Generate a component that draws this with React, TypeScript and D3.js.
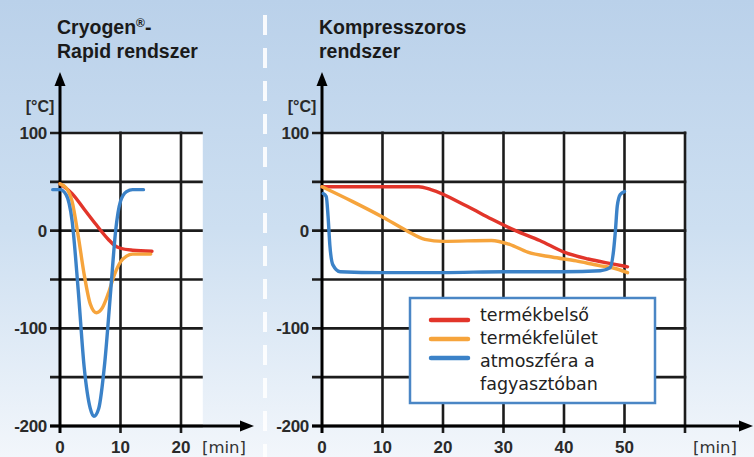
import React from "react";
import * as d3 from "d3";

type Pt = [number, number];

// Cryogen-Rapid system (left)
const cryoCore: Pt[] = [[0, 48], [2, 38], [4, 22], [6, 6], [8, -9], [9, -15], [10, -18], [12, -20], [15.2, -21]];
const cryoSurface: Pt[] = [[0, 48], [1, 44], [2, 30], [3, -5], [4, -45], [5, -75], [6, -84], [7, -79], [8, -64], [9, -45], [10, -32], [11, -26], [12, -24], [15, -24]];
const cryoAtmos: Pt[] = [[-1.2, 42], [0, 42], [1, 37], [2, 10], [3, -60], [4, -140], [5, -182], [5.6, -190], [6.4, -182], [7.4, -135], [8.4, -60], [9.2, 0], [10, 30], [11, 40], [12, 42], [13.8, 42]];

// Compressor system (right)
const compCore: Pt[] = [[0, 45], [16, 45], [18, 42], [24, 25], [28, 12], [32, 0], [36, -10], [40, -22], [44, -29], [48, -34], [50.5, -37]];
const compSurface: Pt[] = [[0, 45], [5, 30], [10, 14], [14, 0], [17, -9], [20, -11], [28, -10], [31, -14], [34, -22], [38, -27], [42, -31], [46, -36], [48, -38], [50.5, -43]];
const compAtmos: Pt[] = [[0.2, 38], [0.7, 35], [1.0, 15], [1.3, -15], [1.8, -35], [3, -42], [10, -43], [20, -43], [30, -42], [40, -42], [46, -41], [47.6, -38], [48.2, -20], [48.5, 0], [48.8, 25], [49.3, 37], [50, 40]];

const yGrid = [-200, -150, -100, -50, 0, 50, 100];
const yLabels = [100, 0, -100, -200];
const leftXTicks = [0, 10, 20];
const rightXTicks = [0, 10, 20, 30, 40, 50];
const rightXGrid = [10, 20, 30, 40, 50, 60];
const leftXGrid = [10, 20];

const legendItems = ["termékbelső", "termékfelület", "atmoszféra a"];
const legendExtra = "fagyasztóban";

const RED = "#e2352a";
const ORANGE = "#f6a43c";
const BLUE = "#3b82c8";
const GRID = "#1c1c1c";

const y = d3.scaleLinear().domain([-200, 100]).range([426, 133]);
const xL = d3.scaleLinear().domain([0, 10]).range([60, 120.5]);
const xR = d3.scaleLinear().domain([0, 10]).range([322, 382.5]);

function TitleLine({ t }: { t: string }) {
  const parts = t.split("®");
  if (parts.length === 1) return <>{t}</>;
  return (
    <>
      {parts[0]}
      <tspan fontSize={12} dy={-7}>®</tspan>
      <tspan dy={7}>{parts[1]}</tspan>
    </>
  );
}

function Panel({ x, xEnd, xGrid, xTicks, arrowEnd, title, series, rightBorder }: any) {
  const line = d3.line<Pt>().x(d => x(d[0])).y(d => y(d[1])).curve(d3.curveMonotoneX);
  const x0 = x(0);
  const x1 = x(xEnd);
  return (
    <g>
      <rect x={x0} y={y(100)} width={x1 - x0} height={y(-200) - y(100)} fill="#ffffff" />
      {title.map((t: string, i: number) => (
        <text key={t} x={x0 - 3} y={34 + i * 24} fontFamily="Liberation Sans, Arial, sans-serif" fontWeight="bold" fontSize={19.5} fill="#1a1a1a"><TitleLine t={t} /></text>
      ))}
      {xGrid.map((v: number) => (
        <line key={"v" + v} x1={x(v)} x2={x(v)} y1={y(100) - 1.5} y2={y(-200) + 7} stroke={GRID} strokeWidth={2.6} />
      ))}
      {yGrid.map(v => (
        <line key={"h" + v} x1={x0 - 10} x2={x1 + (rightBorder ? 1.3 : 0)} y1={y(v)} y2={y(v)} stroke={GRID} strokeWidth={2.6} />
      ))}
      <line x1={x0} x2={x0} y1={y(-200) + 7} y2={84} stroke="#000" strokeWidth={3} />
      <path d={`M${x0},72 L${x0 - 5.5},86 L${x0 + 5.5},86 Z`} fill="#000" />
      <line x1={x0 - 10} x2={arrowEnd - 10} y1={y(-200)} y2={y(-200)} stroke="#000" strokeWidth={3} />
      <path d={`M${arrowEnd},${y(-200)} L${arrowEnd - 14},${y(-200) - 5.5} L${arrowEnd - 14},${y(-200) + 5.5} Z`} fill="#000" />
      {yLabels.map(v => (
        <text key={"yl" + v} x={x0 - 13} y={y(v) + 6} textAnchor="end" fontFamily="Liberation Sans, Arial, sans-serif" fontWeight="bold" fontSize={17} fill="#2a2a2a" letterSpacing={-0.3}>{v}</text>
      ))}
      <text x={x0 - 20} y={112} textAnchor="middle" fontFamily="Liberation Sans, Arial, sans-serif" fontWeight="bold" fontSize={16} fill="#2a2a2a">[°C]</text>
      {xTicks.map((v: number) => (
        <text key={"xl" + v} x={x(v)} y={453} textAnchor="middle" fontFamily="Liberation Sans, Arial, sans-serif" fontWeight="bold" fontSize={17} fill="#2a2a2a">{v}</text>
      ))}
      {series.map((s: any, i: number) => (
        <path key={i} d={line(s.data) || ""} fill="none" stroke={s.color} strokeWidth={3.4} strokeLinecap="round" strokeLinejoin="round" />
      ))}
    </g>
  );
}

export default function App() {
  const dashes: number[] = d3.range(15, 457, 33);
  return (
    <svg width={754} height={457} style={{ position: "absolute", left: 0, top: 0 }}>
      <defs>
        <linearGradient id="bg" x1="0" y1="0" x2="0" y2="1">
          <stop offset="0%" stopColor="#bad1ea" />
          <stop offset="50%" stopColor="#cddff1" />
          <stop offset="100%" stopColor="#f2f6fb" />
        </linearGradient>
      </defs>
      <rect x={0} y={0} width={754} height={457} fill="url(#bg)" />
      {dashes.map(d => (
        <line key={d} x1={265} x2={265} y1={d} y2={d + 20} stroke="#ffffff" strokeWidth={4} opacity={0.9} />
      ))}
      <Panel x={xL} xEnd={23.6} xGrid={leftXGrid} xTicks={leftXTicks} arrowEnd={254}
        title={["Cryogen®-", "Rapid rendszer"]}
        series={[{ data: cryoCore, color: RED }, { data: cryoSurface, color: ORANGE }, { data: cryoAtmos, color: BLUE }]} />
      <Panel x={xR} xEnd={60} xGrid={rightXGrid} xTicks={rightXTicks} arrowEnd={753} rightBorder
        title={["Kompresszoros", "rendszer"]}
        series={[{ data: compCore, color: RED }, { data: compSurface, color: ORANGE }, { data: compAtmos, color: BLUE }]} />
      <text x={202} y={453} fontFamily="DejaVu Sans, sans-serif" fontSize={16.5} fill="#333">[min]</text>
      <text x={693} y={453} fontFamily="DejaVu Sans, sans-serif" fontSize={16.5} fill="#333">[min]</text>
      <rect x={410} y={298} width={245} height={105} fill="#ffffff" stroke="#4a86c5" strokeWidth={2.5} />
      {[RED, ORANGE, BLUE].map((c, i) => (
        <line key={c} x1={431} x2={468} y1={320 + i * 19} y2={320 + i * 19} stroke={c} strokeWidth={4.5} strokeLinecap="round" />
      ))}
      {[...legendItems, legendExtra].map((t, i) => (
        <text key={t} x={480} y={321 + i * 23} fontFamily="DejaVu Sans, sans-serif" fontSize={17.5} fill="#222">{t}</text>
      ))}
    </svg>
  );
}
